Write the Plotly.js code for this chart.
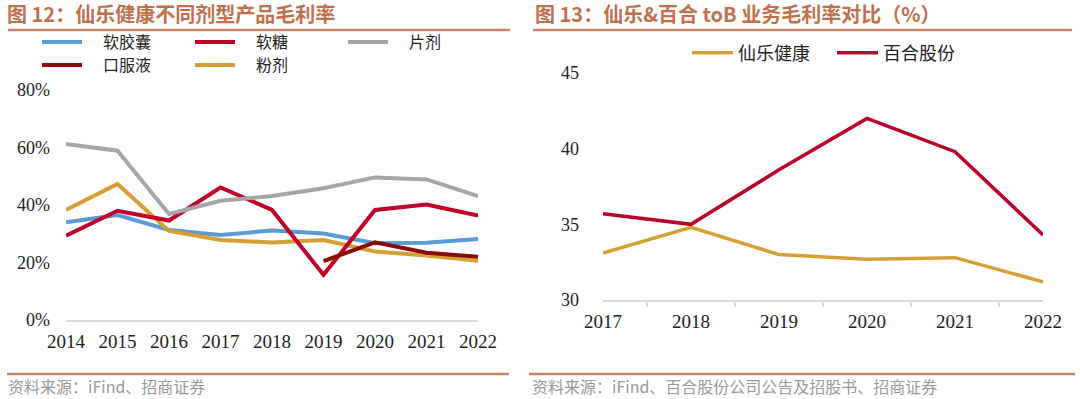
<!DOCTYPE html>
<html>
<head>
<meta charset="utf-8">
<script src="https://cdn.plot.ly/plotly-3.0.1.min.js"></script>
<style>
html,body{margin:0;padding:0;background:#fff;width:1080px;height:399px;overflow:hidden;}
#c1{position:absolute;left:0;top:0;width:530px;height:399px;}
#c2{position:absolute;left:520px;top:0;width:560px;height:399px;}
</style>
</head>
<body>
<div id="c1"></div>
<div id="c2"></div>
<script>
// ---------- Data: chart 1 ----------
const years1 = ['2014','2015','2016','2017','2018','2019','2020','2021','2022'];
const softCapsule = [34.0, 36.5, 31.3, 29.6, 31.1, 30.1, 26.7, 26.9, 28.2]; // 软胶囊
const gummy       = [29.3, 38.0, 34.6, 46.1, 38.3, 15.7, 38.3, 40.2, 36.3]; // 软糖
const tablet      = [61.2, 58.9, 36.9, 41.5, 43.1, 45.8, 49.6, 48.9, 43.1]; // 片剂
const oralLiquid  = [null, null, null, null, null, 20.5, 27.0, 23.4, 22.0]; // 口服液
const powder      = [38.3, 47.3, 31.0, 27.8, 27.0, 27.8, 23.8, 22.4, 20.6]; // 粉剂
const seriesNames1 = ['软胶囊', '软糖', '片剂', '口服液', '粉剂'];
const yTicks1 = [0, 20, 40, 60, 80];
const yTickText1 = ['0%', '20%', '40%', '60%', '80%'];

// ---------- Data: chart 2 ----------
const years2 = ['2017','2018','2019','2020','2021','2022'];
const byHealth = [33.1, 34.8, 33.0, 32.7, 32.8, 31.2]; // 仙乐健康
const baihe    = [35.7, 35.0, 38.6, 42.0, 39.8, 34.3]; // 百合股份
const seriesNames2 = ['仙乐健康', '百合股份'];
const yTicks2 = [30, 35, 40, 45];

const CJK = '"Noto Sans CJK SC", "Noto Sans", sans-serif';
const SERIF = '"Liberation Serif", "DejaVu Serif", serif';
const TITLE_COLOR = '#C0704C';
const RULE_COLOR = '#C9856B';

function helpers(off, W, H, m) {
  const pw = W - m.l - m.r, ph = H - m.t - m.b;
  return {
    px: g => (g - off - m.l) / pw,
    py: y => 1 - (y - m.t) / ph,
    cx: g => (g - off) / W,
    cy: y => 1 - y / H
  };
}

// ---------- Chart 1 ----------
(function(){
  const off = 0, W = 530, H = 399;
  const m = {l:66, r:52, t:90, b:79};
  const h = helpers(off, W, H, m);
  const lw = 4;
  const values = [softCapsule, gummy, tablet, oralLiquid, powder];
  const colors = ['#5B9BD5', '#C00028', '#A6A6A6', '#8B0A0A', '#D4A035'];
  const legendIds = ['legend', 'legend2', 'legend3', 'legend4', 'legend5'];
  const legendPos = [[37, 42], [190, 42], [343, 42], [37, 65], [190, 65]];
  const order = [0, 4, 1, 2, 3];
  const data = order.map(i => ({
    type:'scatter', mode:'lines', x:years1, y:values[i], name:'\u3000' + seriesNames1[i],
    line:{color:colors[i], width:lw}, legend:legendIds[i], connectgaps:false
  }));
  const layout = {
    width:W, height:H, margin:m, paper_bgcolor:'#fff', plot_bgcolor:'#fff',
    showlegend:true,
    title:{text:'<b>图 12：仙乐健康不同剂型产品毛利率</b>', xref:'container', yref:'container',
      x:h.cx(7), y:h.cy(15), xanchor:'left', yanchor:'middle',
      font:{family:CJK, size:20, color:TITLE_COLOR}},
    xaxis:{type:'category', showgrid:false, zeroline:false, showline:true,
      linecolor:'#D9D9D9', linewidth:1.5, ticks:'', ticklabelstandoff:4,
      tickfont:{family:SERIF, size:19, color:'#222'}, fixedrange:true},
    yaxis:{range:[0,80], tickvals:yTicks1, ticktext:yTickText1, showgrid:false,
      zeroline:false, showline:false, ticks:'', ticklabelstandoff:15,
      tickfont:{family:SERIF, size:18, color:'#222'}, fixedrange:true},
    shapes:[
      {type:'line', xref:'paper', yref:'paper', x0:h.px(8), x1:h.px(510), y0:h.py(30), y1:h.py(30),
        line:{color:RULE_COLOR, width:2.5}},
      {type:'line', xref:'paper', yref:'paper', x0:h.px(7), x1:h.px(509), y0:h.py(374), y1:h.py(374),
        line:{color:RULE_COLOR, width:2.5}}
    ],
    annotations:[
      {text:'资料来源：iFind、招商证券', xref:'paper', yref:'paper', x:h.px(7), y:h.py(386),
        xanchor:'left', yanchor:'middle', showarrow:false, borderpad:0,
        font:{family:CJK, size:16, color:'#999'}}
    ]
  };
  legendIds.forEach((id, i) => {
    layout[id] = {
      orientation:'h', xref:'container', yref:'container', xanchor:'left', yanchor:'middle',
      x:h.cx(legendPos[i][0]), y:h.cy(legendPos[i][1]), itemwidth:40,
      font:{family:CJK, size:16, color:'#222'}, bgcolor:'rgba(0,0,0,0)'
    };
  });
  Plotly.newPlot('c1', data, layout, {staticPlot:true, displayModeBar:false});
})();

// ---------- Chart 2 ----------
(function(){
  const off = 520, W = 560, H = 399;
  const m = {l:83, r:37, t:73, b:99};
  const h = helpers(off, W, H, m);
  const data = [
    {type:'scatter', mode:'lines', x:years2, y:byHealth, name:seriesNames2[0],
      line:{color:'#D4A035', width:3.5}},
    {type:'scatter', mode:'lines', x:years2, y:baihe, name:seriesNames2[1],
      line:{color:'#B8002A', width:3.5}}
  ];
  const layout = {
    width:W, height:H, margin:m, paper_bgcolor:'rgba(0,0,0,0)', plot_bgcolor:'rgba(0,0,0,0)',
    showlegend:true,
    title:{text:'<b>图 13：仙乐&amp;百合 toB 业务毛利率对比（%）</b>', xref:'container', yref:'container',
      x:h.cx(535), y:h.cy(15), xanchor:'left', yanchor:'middle',
      font:{family:CJK, size:20, color:TITLE_COLOR}},
    legend:{orientation:'h', xref:'container', yref:'container', xanchor:'left', yanchor:'middle',
      x:h.cx(687), y:h.cy(53), entrywidth:89, entrywidthmode:'pixels', itemwidth:41,
      font:{family:CJK, size:18, color:'#222'}, bgcolor:'rgba(0,0,0,0)'},
    xaxis:{type:'category', showgrid:false, zeroline:false, showline:true,
      linecolor:'#D9D9D9', linewidth:1.5, ticks:'outside', tickson:'boundaries',
      ticklen:5, tickcolor:'#D9D9D9', tickwidth:1.5, ticklabelstandoff:4,
      tickfont:{family:SERIF, size:19, color:'#222'}, fixedrange:true},
    yaxis:{range:[30,45], tickvals:yTicks2, showgrid:false, zeroline:false, showline:false,
      ticks:'', ticklabelstandoff:23, tickfont:{family:SERIF, size:18, color:'#222'}, fixedrange:true},
    shapes:[
      {type:'line', xref:'paper', yref:'paper', x0:h.px(533), x1:h.px(1072), y0:h.py(30), y1:h.py(30),
        line:{color:RULE_COLOR, width:2.5}},
      {type:'line', xref:'paper', yref:'paper', x0:h.px(529), x1:h.px(1075), y0:h.py(374), y1:h.py(374),
        line:{color:RULE_COLOR, width:2.5}}
    ],
    annotations:[
      {text:'资料来源：iFind、百合股份公司公告及招股书、招商证券', xref:'paper', yref:'paper',
        x:h.px(531), y:h.py(386), xanchor:'left', yanchor:'middle', showarrow:false, borderpad:0,
        font:{family:CJK, size:16, color:'#999'}}
    ]
  };
  Plotly.newPlot('c2', data, layout, {staticPlot:true, displayModeBar:false});
})();
</script>
</body>
</html>
